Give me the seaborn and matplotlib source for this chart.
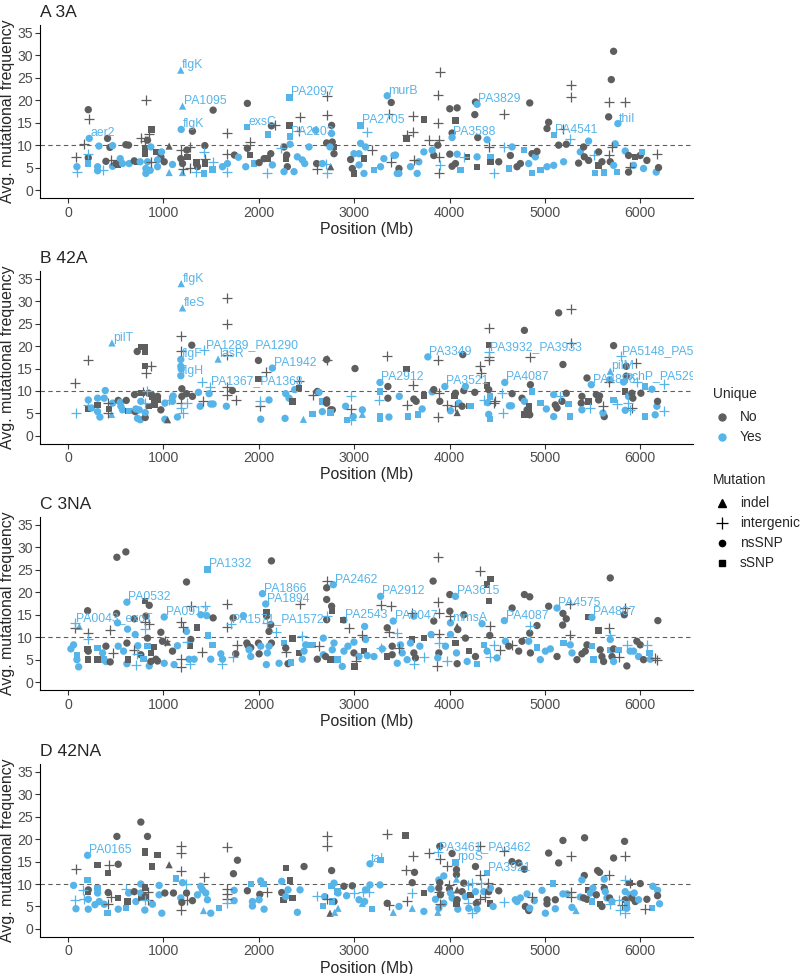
import matplotlib
matplotlib.use("Agg")
import matplotlib.pyplot as plt
from matplotlib.lines import Line2D
import pandas as pd
import seaborn as sns

# ---------------- data: (position Mb, avg. mutational frequency, unique, mutation[, gene]) -------------
# unique: N = No, Y = Yes ; mutation: i = indel, g = intergenic, n = nsSNP, s = sSNP
panel_titles = ["A 3A", "B 42A", "C 3NA", "D 42NA"]
unique_levels = ["No", "Yes"]
mutation_levels = ["indel", "intergenic", "nsSNP", "sSNP"]
x_ticks = [0, 1000, 2000, 3000, 4000, 5000, 6000]
y_ticks = [0, 5, 10, 15, 20, 25, 30, 35]
threshold = 10

pts_3A = [
    (84,7.4,'N','g'),(94,5.2,'Y','n'),(94,4.1,'Y','g'),(213,17.9,'N','n'),(216,15.9,'N','g'),(223,11.5,'Y','n','aer2'),
    (171,10.2,'N','g'),(206,8.1,'Y','g'),(213,7.2,'N','n'),(213,5.9,'Y','s'),(311,5.2,'Y','n'),(311,4.3,'Y','n'),
    (325,9.8,'Y','n'),(363,4.4,'Y','g'),(398,6.4,'N','n'),(415,11.5,'N','n'),(440,9.5,'N','n'),(468,9.9,'Y','n'),
    (450,6.7,'N','g'),(468,5.3,'Y','n'),(503,5.9,'N','n'),(527,5.7,'N','s'),(548,7.0,'Y','n'),(572,5.9,'Y','n'),
    (607,10.1,'N','n'),(635,10.0,'N','n'),(642,5.9,'Y','n'),(695,6.5,'N','n'),(730,6.3,'N','s'),(757,6.3,'Y','n'),
    (764,11.5,'N','g'),(817,20.0,'N','g'),(806,10.9,'N','g'),(834,11.1,'N','n'),(852,12.4,'N','g'),(876,13.5,'N','s'),
    (810,9.3,'N','s'),(810,8.0,'N','s'),(869,9.6,'Y','n'),(921,8.5,'N','s'),(974,7.4,'N','n'),(869,6.3,'N','g'),
    (834,6.3,'Y','n'),(817,4.8,'Y','n'),(817,3.7,'Y','n'),(862,4.4,'Y','n'),(939,6.7,'Y','n'),(939,5.2,'Y','n'),
    (1009,6.3,'N','n'),(981,8.5,'Y','n'),(1061,9.8,'N','i'),(1061,3.9,'Y','i'),(1096,5.7,'Y','n'),
    (1183,26.7,'Y','i','flgK'),(1201,18.7,'Y','i','PA1095'),(1187,13.5,'Y','n','flgK'),(1201,3.9,'Y','i'),
    (1183,8.9,'N','g'),(1183,7.0,'N','n'),(1201,5.9,'N','n'),(1201,4.8,'N','g'),(1246,8.9,'N','n'),(1253,7.4,'N','s'),
    (1305,13.1,'N','n'),(1277,9.6,'N','g'),(1281,5.0,'N','g'),(1347,6.1,'N','s'),(1340,4.1,'Y','g'),(1358,5.2,'N','n'),
    (1428,8.5,'Y','g'),(1435,9.9,'N','n'),(1435,7.0,'N','g'),(1435,5.9,'N','s'),(1428,3.7,'Y','s'),(1522,17.8,'N','n'),
    (1515,4.6,'Y','s'),(1522,6.3,'Y','g'),(1620,5.2,'Y','n'),(1672,12.6,'N','g'),(1672,5.9,'Y','n'),(1672,4.1,'Y','g'),
    (1665,8.1,'N','g'),(1745,7.8,'N','n'),(1787,7.3,'Y','n'),(1881,19.3,'N','n'),(1874,14.1,'Y','s','exsC'),
    (1881,9.3,'N','n'),(1909,10.7,'N','g'),(1909,7.8,'N','s'),(1864,5.2,'Y','n'),(1951,5.9,'Y','s'),(2004,6.1,'N','n'),
    (2056,7.0,'N','n'),(2091,7.0,'N','s'),(2091,3.7,'Y','g'),(2098,12.4,'Y','s'),(2126,8.1,'N','n'),(2133,14.3,'N','n'),
    (2168,14.4,'N','g'),(2143,5.6,'Y','n'),(2231,9.3,'Y','g'),(2265,9.6,'N','n'),(2293,7.8,'N','n'),(2283,7.0,'N','s'),
    (2321,20.6,'Y','s','PA2097'),(2321,14.4,'N','s'),(2328,11.9,'Y','s','PA2103'),(2328,10.2,'Y','n'),(2300,5.2,'N','n'),
    (2265,4.1,'Y','n'),(2370,4.1,'Y','n'),(2422,13.1,'N','g'),(2433,16.3,'N','g'),(2405,7.4,'Y','n'),(2457,6.7,'Y','n'),
    (2482,5.9,'Y','n'),(2527,9.6,'Y','n'),(2597,13.3,'Y','n'),(2607,5.9,'N','n'),(2614,4.8,'N','g'),(2667,5.9,'Y','n'),
    (2712,20.9,'N','g'),(2712,16.7,'N','g'),(2712,10.5,'N','n'),(2701,5.9,'Y','g'),(2719,3.7,'Y','g'),(2754,5.2,'N','i'),
    (2764,14.4,'N','n'),(2764,12.6,'Y','n'),(2771,10.7,'N','n'),(2782,9.6,'N','s'),(2789,8.1,'N','n'),(2747,9.6,'Y','n'),
    (2998,8.1,'Y','n'),(2963,6.8,'N','n'),(2981,4.8,'N','n'),(2998,3.7,'N','s'),(3051,8.1,'Y','n'),
    (3068,14.4,'Y','s','PA2705'),(3068,10.4,'Y','n'),(3103,7.0,'N','s'),(3120,9.6,'Y','n'),(3138,13.0,'Y','g'),
    (3051,5.6,'Y','n'),(3103,3.7,'Y','n'),(3190,8.9,'N','g'),(3208,4.4,'Y','s'),(3277,5.2,'Y','n'),(3312,7.0,'Y','n'),
    (3347,21.0,'Y','n','murB'),(3389,19.5,'N','n'),(3365,17.0,'N','g'),(3382,6.3,'N','g'),(3434,7.8,'Y','n'),
    (3452,3.7,'Y','n'),(3470,4.8,'N','n'),
    (3616,16.5,'N','g'),(3616,12.9,'N','g'),(3731,15.7,'N','s'),(3549,11.4,'N','s'),(3556,12.2,'N','g'),(3783,11.2,'N','g'),
    (3895,26.3,'N','g'),(3881,21.1,'N','g'),(3881,15.0,'N','g'),(3888,11.1,'N','g'),(3877,10.0,'N','n'),(3835,7.7,'N','n'),
    (3888,7.4,'N','g'),(3905,5.5,'Y','g'),(3888,3.8,'N','g'),(3818,8.9,'Y','n'),(3731,8.5,'Y','n'),(3678,6.3,'Y','n'),
    (3626,6.6,'N','g'),(3591,5.2,'Y','n'),(3661,3.7,'Y','n'),(3469,3.7,'Y','n'),(3417,7.7,'Y','n'),
    (4003,18.1,'N','n'),(4080,18.3,'N','n'),(4062,15.5,'N','s'),(4027,12.7,'N','n'),(4027,11.7,'Y','n','PA3588'),
    (4003,8.0,'N','n'),(4080,8.0,'Y','n'),(4062,5.9,'N','n'),(4027,5.3,'N','n'),(4115,4.4,'Y','s'),(4150,7.4,'Y','g'),
    (4185,7.4,'N','s'),(4272,19.6,'N','n'),(4289,19.1,'Y','n','PA3829'),(4265,16.8,'N','n'),(4296,11.7,'N','n'),
    (4289,7.4,'Y','n'),(4289,5.2,'N','s'),(4394,11.2,'Y','n'),(4411,9.6,'N','g'),(4429,7.4,'Y','s'),(4429,6.3,'N','s'),
    (4464,3.7,'Y','g'),(4568,17.0,'N','g'),(4568,9.7,'Y','g'),(4516,6.3,'N','n'),(4638,7.7,'N','n'),(4656,9.6,'Y','n'),
    (4621,4.8,'Y','s'),(4708,5.2,'N','n'),(4743,5.9,'N','n'),(4778,8.9,'Y','s'),(4841,19.4,'N','n'),(4830,5.9,'Y','n'),
    (4865,8.1,'N','n'),(4900,7.4,'Y','n'),(4917,8.6,'N','n'),(4865,3.8,'Y','s'),(4952,4.4,'Y','s'),(5022,5.2,'Y','n'),
    (5039,15.1,'N','n'),(5022,13.7,'N','n'),(5092,12.2,'Y','s','PA4541'),(5092,5.5,'Y','n'),(5144,10.0,'N','n'),
    (5189,13.7,'N','g'),(5224,10.2,'N','n'),(5259,11.4,'Y','g'),(5196,6.3,'Y','n'),(5273,23.3,'N','g'),(5273,20.7,'N','g'),
    (5353,6.0,'N','n'),(5371,8.5,'Y','n'),(5406,9.6,'N','n'),(5413,7.4,'N','n'),(5458,10.9,'Y','n'),(5458,6.6,'N','n'),
    (5511,7.7,'Y','g'),(5528,3.8,'Y','s'),(5563,8.5,'N','n'),(5563,5.5,'N','s'),(5598,6.3,'N','n'),(5622,3.9,'Y','s'),
    (5668,19.6,'N','g'),(5696,24.6,'N','n'),(5720,30.9,'N','n'),(5668,16.3,'N','n'),(5765,14.8,'Y','n','thiI'),
    (5842,19.6,'N','g'),(5737,10.3,'Y','n'),(5703,9.6,'N','g'),(5668,7.7,'N','g'),(5685,6.3,'N','n'),(5720,5.5,'Y','n'),
    (5755,4.0,'Y','s'),(5842,8.7,'Y','n'),(5877,7.7,'N','n'),(5894,5.2,'N','g'),(5929,5.5,'Y','n'),(5947,7.4,'N','s'),
    (5999,7.7,'N','n'),(6017,8.5,'Y','s'),(6034,4.8,'Y','n'),(6069,6.6,'N','n'),(6174,8.0,'N','g'),(6167,4.0,'Y','n'),
    (6191,5.0,'N','n'),(5877,4.0,'N','n'),
]

pts_42A = [
    (73,11.8,'N','g'),(84,5.2,'Y','g'),(213,17.0,'N','g'),(213,8.0,'Y','n'),(213,6.0,'N','s'),(213,6.9,'Y','g'),
    (248,6.2,'Y','n'),(311,5.4,'Y','n'),(311,6.9,'N','s'),(311,8.4,'Y','n'),(335,4.2,'Y','n'),(380,8.4,'Y','n'),
    (391,10.1,'Y','n'),(415,7.3,'N','g'),(433,6.0,'N','s'),(422,5.2,'N','g'),(457,4.8,'Y','i'),(468,7.3,'Y','n'),
    (461,20.7,'Y','i','pilT'),(527,7.9,'N','n'),(555,6.6,'Y','n'),(548,7.5,'Y','n'),(572,5.8,'Y','n'),(611,7.9,'N','n'),
    (632,5.6,'N','s'),(642,5.6,'Y','s'),(698,9.2,'N','n'),(705,5.4,'N','n'),(712,6.0,'Y','n'),(726,18.8,'N','n'),
    (764,19.8,'N','s'),(810,19.8,'N','s'),(810,18.8,'N','s'),(810,15.5,'N','s'),(869,15.6,'N','g'),(817,14.1,'N','g'),
    (771,9.5,'N','s'),(764,7.7,'Y','n'),(747,5.8,'Y','n'),(729,3.9,'Y','n'),(757,3.6,'Y','n'),(810,4.1,'N','n'),
    (810,5.2,'Y','n'),(806,7.4,'Y','g'),(782,9.8,'N','g'),(827,9.9,'Y','g'),(845,9.5,'N','n'),(852,6.6,'N','s'),
    (876,9.2,'N','n'),(887,8.6,'N','s'),(904,8.0,'N','s'),(914,6.9,'N','s'),(939,8.0,'N','s'),(939,8.8,'N','n'),
    (974,5.8,'N','n'),(1016,7.3,'Y','n'),(1016,3.7,'Y','n'),(1044,3.6,'N','i'),(1061,8.0,'Y','g'),(1096,7.7,'Y','n'),
    (1103,8.9,'Y','n'),(1148,4.2,'Y','n'),(1183,7.4,'N','g'),(1201,5.1,'Y','g'),(1190,6.2,'Y','g'),
    (1187,33.9,'Y','i','flgK'),(1201,28.5,'Y','i','fleS'),(1183,22.2,'N','g'),(1183,18.8,'N','g'),
    (1183,17.0,'Y','n','flgF'),(1183,15.5,'Y','n'),(1187,14.9,'Y','n'),(1183,13.4,'Y','n','flgH'),(1194,10.5,'N','n'),
    (1194,8.8,'N','n'),(1243,9.4,'N','n'),(1253,7.4,'Y','g'),(1305,8.8,'N','n'),(1298,20.2,'N','n'),(1368,9.7,'Y','n'),
    (1386,6.6,'Y','n'),(1410,11.9,'Y','g'),(1428,19.2,'Y','g','PA1289_PA1290'),(1417,7.7,'N','g'),(1480,9.4,'Y','n'),
    (1490,11.0,'Y','g','PA1367_PA1368'),(1497,7.1,'Y','n'),(1522,7.1,'Y','n'),(1574,17.1,'Y','i','lasR'),
    (1665,30.6,'N','g'),(1665,25.0,'N','g'),(1672,18.1,'N','g'),(1672,11.0,'N','g'),(1672,9.2,'N','g'),(1661,6.6,'Y','n'),
    (1724,10.1,'N','n'),(1759,8.0,'N','g'),(1997,16.8,'N','n'),(1997,12.7,'N','s'),(2021,3.7,'Y','n'),(2014,7.7,'Y','g'),
    (2014,6.6,'N','g'),(2080,14.2,'N','g'),(2108,8.0,'Y','n'),(2143,15.1,'Y','n','PA1942'),(2276,3.9,'Y','n'),
    (2283,9.4,'Y','n'),(2318,8.4,'Y','n'),(2353,7.7,'N','s'),(2377,10.3,'Y','n'),(2422,10.6,'N','s'),(2422,12.3,'N','g'),
    (2468,3.7,'Y','i'),(2562,4.9,'Y','s'),(2572,9.2,'N','g'),(2614,9.9,'N','n'),(2632,9.7,'Y','n'),(2667,5.4,'Y','n'),
    (2667,7.7,'Y','s'),(2712,17.0,'N','n'),(2719,17.0,'N','g'),(2712,8.0,'N','n'),(2712,7.3,'N','n'),(2754,5.8,'N','n'),
    (2771,5.8,'N','n'),(2754,5.2,'Y','s'),(2911,6.6,'Y','n'),(2928,3.6,'Y','s'),(2963,8.8,'Y','g'),(2963,6.0,'N','g'),
    (2963,3.6,'Y','g'),(2991,4.3,'Y','n'),(3009,15.0,'N','n'),(3086,5.8,'Y','n'),(3086,4.8,'Y','i'),
    (3271,11.9,'Y','n','PA2912'),(3260,8.0,'Y','g'),(3271,9.9,'Y','s'),(3271,4.3,'Y','s'),(3271,3.7,'Y','s'),
    (3347,17.7,'N','g'),(3354,11.0,'N','n'),(3354,8.4,'N','n'),(3365,4.2,'Y','n'),(3473,8.8,'Y','n'),
    (3549,14.9,'N','s'),(3556,6.9,'N','g'),(3619,11.4,'N','g'),(3626,8.2,'N','n'),(3650,7.7,'N','n'),(3567,4.3,'Y','s'),
    (3671,4.8,'Y','s'),(3713,6.0,'Y','n'),(3731,9.0,'N','s'),(3773,17.6,'Y','n','PA3349'),(3877,17.0,'N','g'),
    (3818,9.8,'Y','n'),(3835,10.3,'N','n'),(3888,9.5,'N','g'),(3898,7.7,'N','n'),(3877,4.3,'N','g'),
    (3951,11.0,'Y','n','PA3521'),(3975,6.9,'N','g'),(4010,5.6,'Y','n'),(4062,9.5,'N','n'),(4052,8.9,'N','s'),
    (4062,6.6,'N','g'),(4080,5.2,'N','i'),(4097,7.3,'Y','n'),(4139,18.1,'N','n'),(4150,10.1,'N','n'),(4132,6.6,'N','n'),
    (4167,11.0,'Y','n'),(4202,6.6,'N','s'),(4219,6.7,'Y','s'),(4265,9.7,'N','n'),(4324,15.5,'N','g'),(4331,14.0,'N','g'),
    (4359,8.0,'Y','g'),(4394,11.2,'N','s'),(4411,24.1,'N','g'),(4411,20.3,'N','s'),(4411,18.6,'Y','g','PA3932_PA3933'),
    (4411,17.5,'N','g'),(4411,16.8,'N','g'),(4411,10.3,'N','n'),(4422,8.8,'Y','s'),(4401,7.4,'Y','n'),(4411,4.8,'Y','n'),
    (4422,3.7,'Y','s'),(4464,7.3,'N','g'),(4481,7.7,'N','g'),(4558,5.2,'Y','g'),(4551,9.5,'Y','g'),
    (4579,11.9,'Y','n','PA4087'),(4628,6.7,'Y','n'),(4649,6.7,'Y','n'),(4656,9.4,'N','n'),(4760,8.4,'N','n'),
    (4785,23.5,'N','n'),(4848,17.6,'N','g'),(4785,7.7,'Y','n'),(4813,5.8,'N','n'),(4830,6.6,'N','s'),(4848,11.4,'N','n'),
    (4830,5.4,'N','s'),(4841,4.7,'N','n'),(4785,4.8,'N','s'),(4865,9.9,'Y','s'),(4952,7.3,'Y','s'),(5015,6.0,'Y','n'),
    (5092,9.2,'Y','n'),(5092,4.3,'Y','n'),(5109,6.9,'N','n'),(5127,6.2,'N','n'),(5144,27.4,'N','n'),(5189,15.9,'N','n'),
    (5179,7.7,'N','n'),(5161,8.8,'Y','g'),(5224,9.5,'N','n'),(5249,7.1,'Y','s'),(5273,28.3,'N','g'),(5273,20.7,'N','g'),
    (5266,4.3,'Y','s'),(5388,8.8,'N','n'),(5381,7.3,'N','n'),(5388,5.8,'Y','n'),(5441,12.9,'N','n'),(5458,7.7,'N','s'),
    (5476,6.2,'Y','g'),(5486,11.4,'Y','n','PA4886'),(5539,9.2,'N','n'),(5573,8.9,'N','n'),(5563,8.0,'N','n'),
    (5608,6.6,'N','g'),(5622,4.3,'N','n'),(5608,5.1,'Y','n'),(5668,11.9,'N','g'),(5685,14.4,'Y','i','pilM'),
    (5678,12.5,'Y','n'),(5720,20.1,'N','n'),(5720,8.0,'Y','s'),(5755,7.1,'Y','g'),(5797,17.7,'Y','g','PA5148_PA5149'),
    (5853,15.5,'N','n'),(5853,13.3,'N','n'),(5842,9.9,'N','s'),(5866,7.4,'Y','g'),(5877,8.8,'Y','n'),(5894,5.7,'Y','g'),
    (5912,9.5,'N','n'),(5922,8.4,'N','n'),(5912,6.2,'N','g'),(5842,5.7,'Y','n'),(5957,16.2,'N','g'),(5964,11.9,'Y','g'),
    (5825,12.0,'Y','n','pchP_PA5293'),(6006,9.5,'N','n'),(6052,11.0,'Y','s'),(6052,4.3,'Y','s'),(6122,10.4,'Y','n'),
    (6156,4.7,'Y','n'),(6174,6.6,'Y','n'),(6181,7.7,'N','n'),(6244,11.6,'Y','g'),(6244,5.6,'Y','g'),
]

pts_3NA = [
    (31,7.4,'Y','n'),(59,8.3,'Y','n'),(73,13.2,'Y','g','PA0043_exoT'),(73,12.1,'N','g'),(119,12.4,'Y','i'),
    (94,6.1,'Y','s'),(94,5.0,'Y','n'),(112,3.4,'Y','n'),(206,15.9,'N','n'),(213,10.9,'N','g'),(213,9.5,'Y','g'),
    (206,7.4,'N','s'),(213,6.9,'N','n'),(213,5.0,'N','s'),(311,7.6,'Y','s'),(311,5.0,'N','s'),(363,6.5,'Y','n'),
    (380,5.0,'Y','s'),(398,8.0,'N','n'),(398,4.6,'Y','n'),(443,11.7,'N','g'),(443,4.5,'N','n'),(468,6.5,'N','g'),
    (513,27.8,'N','n'),(510,15.3,'N','n'),(520,13.2,'Y','n'),(527,8.0,'Y','n'),(583,6.9,'Y','n'),(607,29.0,'N','n'),
    (618,17.8,'Y','n','PA0532'),(625,11.8,'Y','n'),(618,8.7,'N','n'),(618,4.1,'Y','n'),(632,5.0,'N','s'),
    (688,7.2,'N','g'),(695,14.1,'N','n'),(705,10.6,'Y','n'),(722,6.3,'Y','g'),(712,3.9,'Y','g'),(733,8.1,'Y','n'),
    (764,6.1,'N','n'),(792,5.1,'Y','s'),(806,18.0,'N','s'),(817,14.7,'N','n'),(806,13.3,'N','g'),(852,17.1,'N','n'),
    (852,13.0,'N','g'),(810,11.8,'Y','g'),(834,9.8,'N','n'),(834,8.1,'Y','s'),(852,3.6,'Y','n'),(869,4.6,'N','n'),
    (869,6.5,'N','s'),(904,7.8,'N','s'),(921,5.1,'N','n'),(939,4.7,'N','n'),(974,11.1,'N','n'),(991,9.1,'N','n'),
    (1009,14.5,'Y','n','PA0912'),(1019,9.1,'N','g'),(1044,8.9,'N','i'),(1009,4.2,'Y','n'),(1096,6.9,'N','n'),
    (1113,3.9,'Y','n'),(1148,8.1,'Y','n'),(1183,13.3,'N','g'),(1201,12.2,'N','g'),(1243,22.3,'N','n'),
    (1243,11.3,'Y','n'),(1253,8.9,'Y','g'),(1281,8.0,'N','s'),(1288,9.5,'N','n'),(1183,5.1,'N','g'),(1183,3.4,'N','g'),
    (1270,5.1,'Y','n'),(1281,4.1,'Y','g'),(1288,16.9,'N','g'),(1323,5.1,'Y','n'),(1351,12.2,'N','s'),(1393,15.0,'Y','n'),
    (1410,6.6,'N','g'),(1435,16.9,'Y','g'),(1455,14.8,'Y','n'),(1462,25.1,'Y','s','PA1332'),(1469,10.4,'Y','s'),
    (1497,5.1,'Y','n'),(1522,14.3,'N','n'),(1515,8.3,'Y','s'),(1602,6.3,'Y','n'),(1620,5.1,'Y','n'),(1620,4.1,'Y','g'),
    (1672,17.4,'N','g'),(1672,12.2,'N','g'),(1707,12.9,'Y','g','PA1571_PA1572'),(1731,14.3,'N','n'),
    (1731,5.7,'Y','g'),(1759,6.3,'N','n'),(1770,8.3,'N','g'),(1839,14.8,'Y','n'),(1875,8.7,'N','n'),(1888,8.1,'N','n'),
    (1916,7.7,'N','n'),(1899,7.2,'Y','n'),(1916,5.7,'Y','n'),(1997,8.7,'N','n'),(2021,8.0,'Y','n'),(2004,6.3,'N','n'),
    (2039,19.7,'Y','n','PA1866'),(2073,17.4,'Y','n','PA1894'),(2080,15.6,'N','s'),(2083,14.7,'N','n'),
    (2091,13.2,'Y','g'),(2108,11.3,'N','n'),(2126,12.8,'N','n'),(2133,27.0,'N','n'),(2133,8.7,'N','n'),(2091,6.5,'Y','n'),
    (2080,3.9,'Y','n'),(2108,8.0,'Y','n'),(2178,11.1,'Y','g'),(2213,4.2,'Y','n'),(2265,8.7,'Y','s'),(2283,7.6,'N','n'),
    (2283,6.6,'N','g'),(2307,4.1,'N','n'),(2335,4.4,'Y','s'),(2353,9.7,'N','s'),(2422,6.5,'N','s'),(2433,17.4,'N','g'),
    (2457,5.1,'Y','n'),(2457,10.2,'Y','g'),(2475,6.9,'Y','n'),(2492,8.3,'Y','n'),(2510,8.3,'Y','s'),(2572,8.3,'Y','s'),
    (2614,5.1,'N','n'),(2632,8.0,'N','g'),(2677,9.8,'Y','n'),(2712,22.5,'N','g'),(2712,21.0,'N','n'),(2712,18.4,'N','n'),
    (2712,13.9,'N','n'),(2719,14.7,'Y','g'),(2764,16.9,'N','n'),(2771,15.8,'N','s'),(2782,21.7,'Y','n','PA2462'),
    (2677,6.1,'Y','n'),(2701,5.7,'N','n'),(2754,5.0,'N','s'),(2771,7.2,'Y','n'),(2789,8.7,'Y','n'),(2824,5.0,'Y','s'),
    (2876,3.5,'Y','n'),(2893,6.9,'Y','n'),(2893,13.8,'Y','n','PA2543'),(2886,13.8,'N','s'),(2945,12.1,'N','g'),
    (2935,8.0,'Y','n'),(2998,8.9,'Y','n'),(2998,6.5,'N','n'),(3016,4.6,'N','g'),(3005,3.5,'N','s'),(3051,5.7,'Y','n'),
    (3086,10.6,'N','g'),(3103,6.9,'N','s'),(3110,12.4,'Y','n'),(3120,9.5,'Y','n'),(3138,5.9,'Y','n'),(3208,5.7,'Y','n'),
    (3277,19.1,'Y','n','PA2912'),(3277,17.1,'N','g'),(3347,12.1,'N','n'),(3365,11.1,'N','g'),(3277,7.6,'Y','g'),
    (3295,7.4,'Y','n'),(3410,13.6,'Y','n','PA3047'),(3399,8.0,'N','n'),(3347,5.7,'N','s'),(3399,6.1,'N','n'),
    (3452,4.2,'Y','n'),(3470,7.6,'N','g'),(3452,10.9,'Y','g'),
    (3382,16.9,'N','g'),(3486,8.3,'Y','n'),(3504,6.5,'Y','n'),(3608,15.4,'N','g'),(3626,14.7,'Y','n'),(3608,9.5,'N','s'),
    (3591,8.7,'Y','n'),(3626,6.5,'N','n'),(3643,5.4,'N','n'),(3626,4.1,'Y','g'),(3556,5.0,'Y','n'),(3689,8.0,'Y','n'),
    (3731,9.8,'N','s'),(3731,5.7,'Y','g'),(3807,10.6,'Y','n'),(3828,22.5,'N','n'),(3835,13.6,'N','n'),(3877,27.8,'N','g'),
    (3877,17.8,'N','g'),(3888,15.3,'N','g'),(3888,10.8,'N','g'),(3888,8.7,'Y','g'),(3888,6.5,'N','n'),(3877,5.4,'Y','n'),
    (3870,3.5,'N','g'),(3958,8.0,'Y','n'),(3975,4.6,'Y','g'),(4003,19.5,'N','n'),(4003,15.8,'N','n'),(4010,14.8,'N','g'),
    (4010,13.2,'Y','n','mmsA'),(4010,10.6,'Y','n'),(4062,19.1,'Y','n','PA3615'),(4080,12.4,'N','i'),(4087,11.7,'N','n'),
    (4062,8.7,'N','s'),(4073,6.5,'Y','n'),(4080,4.1,'N','n'),(4150,15.0,'N','n'),(4167,9.8,'N','n'),(4202,6.9,'N','s'),
    (4185,4.6,'Y','n'),(4272,5.7,'N','n'),(4289,4.1,'Y','s'),(4324,24.7,'N','g'),(4341,13.0,'Y','n'),(4394,21.7,'N','s'),
    (4429,22.9,'N','s'),(4411,18.0,'N','s'),(4422,12.4,'N','g'),(4422,10.4,'N','n'),(4359,8.3,'Y','s'),(4394,6.9,'Y','n'),
    (4429,5.7,'Y','g'),(4464,8.3,'Y','g'),(4498,5.4,'Y','n'),(4533,7.2,'N','g'),(4586,9.1,'Y','n'),
    (4575,13.7,'Y','n','PA4087'),(4621,8.0,'N','n'),(4656,8.3,'N','g'),(4656,16.5,'N','n'),(4725,6.9,'N','n'),
    (4760,9.1,'N','n'),(4785,19.5,'N','n'),(4841,19.0,'N','n'),(4848,12.4,'Y','g'),(4841,10.9,'N','n'),(4830,9.1,'Y','n'),
    (4848,6.5,'N','n'),(4917,12.6,'N','n'),(4917,7.7,'Y','s'),(4952,5.0,'Y','n'),(5005,6.9,'Y','n'),(5039,16.9,'N','n'),
    (5057,7.4,'Y','n'),(5127,16.5,'Y','n','PA4575'),(5127,5.7,'N','n'),(5189,15.3,'N','n'),(5186,12.7,'N','n'),
    (5196,8.7,'Y','s'),(5224,14.1,'N','n'),(5266,17.3,'N','g'),(5266,10.6,'N','g'),(5266,8.3,'Y','n'),(5284,6.5,'Y','n'),
    (5336,5.0,'N','n'),(5388,6.3,'N','n'),(5423,6.9,'N','n'),(5441,8.3,'N','n'),(5458,14.5,'N','s'),
    (5493,14.4,'Y','n','PA4807'),(5493,8.0,'Y','s'),(5511,5.0,'Y','s'),(5563,11.5,'N','s'),(5580,7.2,'N','n'),
    (5598,5.7,'N','n'),(5615,4.6,'N','n'),(5668,12.1,'N','g'),(5685,23.2,'N','n'),(5678,10.6,'Y','g'),(5685,9.5,'Y','n'),
    (5685,7.2,'Y','s'),(5720,7.4,'N','n'),(5703,5.7,'N','n'),(5720,4.6,'Y','n'),(5772,5.7,'N','g'),(5772,7.2,'Y','s'),
    (5842,16.5,'N','g'),(5832,15.0,'N','n'),(5859,8.3,'Y','g'),(5859,3.6,'N','n'),(5894,6.9,'Y','n'),(5929,6.9,'Y','n'),
    (5964,9.1,'N','n'),(5999,8.3,'N','n'),(5982,5.7,'Y','n'),(6034,5.0,'N','n'),(6069,8.3,'Y','g'),(6097,6.5,'Y','s'),
    (6104,5.1,'Y','n'),(6156,5.4,'N','g'),(6184,13.7,'N','n'),(6174,5.0,'N','g'),
]

pts_42NA = [
    (59,9.7,'Y','n'),(84,13.4,'N','g'),(73,6.5,'Y','g'),(84,4.5,'Y','n'),(154,8.7,'Y','g'),(171,6.6,'Y','g'),
    (206,16.4,'Y','n','PA0165'),(206,10.9,'Y','s'),(213,8.7,'N','n'),(213,8.2,'N','s'),(213,6.6,'Y','n'),
    (213,4.4,'Y','n'),(311,14.3,'N','s'),(311,9.1,'Y','s'),(311,8.0,'Y','n'),(283,5.4,'Y','n'),(328,6.1,'Y','n'),
    (380,5.5,'Y','n'),(415,3.5,'Y','s'),(422,12.4,'N','s'),(433,14.3,'N','g'),(422,8.1,'N','n'),(450,7.2,'N','g'),
    (422,5.6,'N','g'),(513,20.6,'N','n'),(527,14.4,'N','n'),(527,6.9,'N','s'),(527,4.4,'Y','n'),(607,8.9,'Y','g'),
    (607,4.6,'Y','s'),(625,6.1,'N','s'),(636,8.0,'Y','n'),(695,8.3,'N','n'),(712,6.1,'Y','n'),(764,23.8,'N','n'),
    (764,10.0,'Y','n'),(764,6.9,'N','s'),(764,8.0,'Y','n'),(810,17.4,'N','s'),(810,16.9,'N','s'),(810,9.2,'N','s'),
    (810,7.2,'N','n'),(806,4.2,'Y','n'),(810,6.5,'Y','g'),(834,20.6,'N','n'),(834,8.3,'N','g'),(834,6.5,'N','g'),
    (886,5.5,'Y','n'),(879,13.9,'N','s'),(939,16.5,'N','s'),(956,9.7,'Y','n'),(956,7.6,'Y','n'),(984,3.5,'Y','n'),
    (1016,8.0,'N','n'),(1061,14.3,'N','i'),(1106,8.0,'N','n'),(1131,11.2,'Y','s'),(1183,18.4,'N','g'),
    (1183,16.8,'N','g'),(1183,12.8,'N','g'),(1201,10.3,'Y','n'),(1183,6.9,'Y','n'),(1194,5.9,'N','n'),(1183,4.2,'N','g'),
    (1243,8.0,'N','n'),(1253,6.5,'N','g'),(1236,10.0,'Y','g'),(1305,6.3,'N','n'),(1358,7.6,'Y','n'),(1393,9.5,'Y','n'),
    (1421,11.5,'N','g'),(1410,8.7,'Y','n'),(1421,4.1,'Y','i'),(1445,8.0,'Y','n'),(1462,6.5,'Y','n'),(1497,3.5,'Y','n'),
    (1585,4.6,'Y','s'),(1665,18.2,'N','g'),(1665,8.9,'N','g'),(1665,7.8,'N','g'),(1672,6.6,'N','g'),(1665,5.7,'Y','g'),
    (1735,12.3,'N','n'),(1742,8.6,'Y','n'),(1742,6.3,'Y','n'),(1777,15.3,'N','n'),(1881,8.5,'N','n'),
    (1916,10.0,'Y','s'),(1934,6.1,'Y','n'),(1934,5.1,'Y','n'),(2011,7.7,'N','n'),(2021,10.7,'Y','n'),(2004,6.5,'Y','n'),
    (2049,10.0,'Y','s'),(2056,4.4,'Y','n'),(2091,8.3,'N','g'),(2241,10.6,'Y','n'),(2241,8.1,'N','n'),(2258,6.5,'N','s'),
    (2283,13.6,'N','s'),(2283,7.2,'Y','n'),(2307,8.7,'Y','n'),(2328,10.8,'N','s'),(2353,6.9,'N','s'),(2405,3.7,'Y','n'),
    (2433,8.7,'Y','n'),(2475,13.9,'N','n'),(2607,7.4,'Y','g'),(2677,5.1,'Y','s'),(2691,7.2,'Y','n'),(2712,20.6,'N','g'),
    (2712,18.4,'N','g'),(2719,6.6,'N','g'),(2747,3.5,'N','i'),(2764,13.0,'N','n'),(2764,9.6,'Y','s'),(2789,10.2,'Y','n'),
    (2789,6.1,'N','n'),(2771,6.1,'Y','s'),(2796,3.7,'Y','i'),(2824,8.3,'Y','s'),(2831,8.0,'Y','n'),(2831,4.6,'Y','i'),
    (2893,9.5,'N','n'),(2921,7.4,'Y','n'),(2981,9.6,'N','n'),(2998,8.1,'Y','g'),(3051,6.5,'Y','n'),(3086,5.7,'Y','i'),
    (3096,8.3,'Y','g'),(3110,6.1,'Y','n'),(3120,8.7,'Y','n'),(3155,8.3,'Y','g'),(3166,9.8,'Y','n'),
    (3166,14.5,'Y','n','tal'),(3190,4.4,'Y','s'),(3271,9.8,'Y','n'),(3277,15.3,'Y','s'),(3340,21.2,'N','g'),
    (3347,5.7,'N','n'),(3365,5.4,'N','g'),(3410,3.7,'Y','i'),(3470,5.0,'Y','n'),
    (3539,20.8,'N','s'),(3549,13.2,'N','g'),(3619,16.3,'N','g'),(3633,12.6,'N','n'),(3609,10.3,'N','n'),
    (3609,8.1,'Y','g'),(3556,6.3,'N','g'),(3609,4.6,'Y','i'),(3731,8.0,'N','s'),(3731,3.9,'Y','n'),(3783,16.8,'N','g'),
    (3807,8.9,'Y','n'),(3853,6.6,'Y','n'),(3877,17.1,'Y','g','PA3461_PA3462'),(3898,18.4,'N','n'),(3898,15.6,'N','g'),
    (3888,10.9,'Y','n'),(3898,10.3,'N','n'),(3888,9.1,'N','n'),(3888,8.3,'N','g'),(3905,7.6,'N','n'),(3898,5.6,'N','g'),
    (3888,4.6,'Y','n'),(3877,3.7,'Y','i'),(3940,11.8,'Y','n'),(3940,5.7,'Y','n'),(3975,14.1,'N','g'),(3992,9.8,'N','g'),
    (3999,8.9,'N','n'),(4010,8.0,'Y','n'),(4027,16.8,'N','n'),(4027,6.9,'Y','n'),(4062,14.8,'Y','s','rpoS'),
    (4073,13.2,'N','n'),(4073,12.1,'N','n'),(4073,11.1,'Y','i'),(4080,8.7,'N','i'),(4080,6.5,'N','n'),(4087,4.4,'Y','n'),
    (4073,5.6,'N','s'),(4132,8.3,'N','n'),(4150,10.2,'N','n'),(4167,7.2,'Y','n'),(4191,9.8,'Y','g'),(4191,5.7,'Y','g'),
    (4202,4.6,'Y','n'),(4219,7.6,'N','s'),(4237,10.3,'Y','g'),(4237,3.5,'Y','g'),(4272,13.9,'N','n'),(4272,8.3,'Y','n'),
    (4282,5.7,'N','n'),(4289,4.4,'Y','n'),(4324,18.4,'N','g'),(4324,12.1,'N','g'),(4334,10.2,'Y','g'),(4324,6.6,'N','g'),
    (4359,8.3,'Y','n'),(4376,7.2,'N','g'),(4394,12.4,'Y','s','PA3921'),(4401,10.3,'N','g'),(4411,8.3,'N','n'),
    (4422,5.7,'N','s'),(4429,9.1,'Y','n'),(4457,5.0,'Y','n'),(4516,8.5,'N','n'),(4568,17.3,'N','g'),(4568,5.9,'Y','g'),
    (4655,15.0,'N','n'),(4690,6.5,'Y','n'),(4708,6.1,'Y','n'),(4725,14.7,'N','n'),(4743,6.9,'Y','n'),(4785,13.3,'N','n'),
    (4795,5.0,'N','n'),(4813,7.8,'Y','n'),(4830,4.1,'N','n'),(4841,4.6,'Y','n'),(4865,7.2,'N','g'),(4889,6.3,'Y','n'),
    (4970,8.6,'Y','n'),(5005,3.5,'Y','n'),(5022,6.5,'N','n'),(5022,5.6,'N','n'),(5039,16.9,'N','n'),(5109,6.5,'N','n'),
    (5109,4.5,'Y','n'),(5085,10.1,'Y','s'),(5144,14.7,'N','n'),(5189,19.7,'N','n'),(5189,7.8,'Y','n'),(5231,7.8,'Y','n'),
    (5273,16.3,'N','g'),(5273,8.3,'N','g'),(5273,7.2,'N','g'),(5284,4.8,'Y','n'),(5326,4.1,'Y','i'),(5371,7.1,'Y','n'),
    (5406,6.9,'N','n'),(5416,20.3,'N','n'),(5413,11.9,'N','n'),(5388,10.9,'Y','n'),(5441,6.6,'N','n'),(5458,8.7,'N','s'),
    (5476,8.0,'Y','n'),(5493,6.1,'Y','s'),(5504,9.1,'Y','n'),(5539,7.6,'N','n'),(5552,13.0,'N','n'),(5573,12.6,'N','n'),
    (5580,5.6,'N','s'),(5598,5.0,'N','n'),(5622,11.1,'Y','n'),(5622,9.1,'N','n'),(5633,8.3,'Y','n'),(5650,6.9,'Y','n'),
    (5668,12.1,'N','g'),(5678,6.9,'N','n'),(5685,5.6,'Y','g'),(5720,15.8,'N','n'),(5703,6.1,'Y','n'),(5772,6.5,'Y','g'),
    (5790,4.2,'Y','g'),(5807,5.4,'N','g'),(5835,19.5,'N','n'),(5842,16.3,'N','g'),(5842,10.9,'Y','g'),(5842,8.3,'Y','n'),
    (5842,6.5,'N','n'),(5859,5.6,'Y','s'),(5859,4.6,'Y','n'),(5842,3.6,'Y','g'),(5887,10.2,'N','s'),(5894,10.2,'N','g'),
    (5894,7.6,'Y','n'),(5912,6.9,'N','n'),(5936,8.0,'Y','n'),(5947,6.1,'N','n'),(5982,6.5,'Y','n'),(5999,10.1,'N','n'),
    (6052,4.4,'N','g'),(6069,6.6,'N','n'),(6122,4.6,'Y','s'),(6132,9.5,'Y','n'),(6181,8.6,'Y','n'),(6181,7.4,'N','n'),
    (6202,5.6,'Y','n'),
]

panel_points = [pts_3A, pts_42A, pts_3NA, pts_42NA]

# ---------------- styling ----------------
UNIQ_CODE = {"N": "No", "Y": "Yes"}
MUT_CODE = {"i": "indel", "g": "intergenic", "n": "nsSNP", "s": "sSNP"}
palette = {"No": "#5E5E5E", "Yes": "#56B4E9"}
filled_markers = {"indel": "^", "nsSNP": "o", "sSNP": "s"}
filled_sizes = {"indel": 27, "nsSNP": 28, "sSNP": 21}

sns.set_style("ticks")
plt.rcParams["font.family"] = ["Liberation Sans", "DejaVu Sans"]


def to_frame(points):
    rows = []
    for t in points:
        rows.append({"Position": t[0], "Freq": t[1], "Unique": UNIQ_CODE[t[2]],
                     "Mutation": MUT_CODE[t[3]], "Gene": t[4] if len(t) > 4 else ""})
    return pd.DataFrame(rows)


fig = plt.figure(figsize=(8.0, 9.74), dpi=100)
bottoms = [0.7968, 0.5444, 0.2916, 0.0382]
ax_left, ax_w, ax_h = 0.0506, 0.8156, 0.1775

for title, pts, bot in zip(panel_titles, panel_points, bottoms):
    ax = fig.add_axes([ax_left, bot, ax_w, ax_h])
    df = to_frame(pts)
    ax.axhline(threshold, color="#5f5f5f", lw=0.8, ls=(0, (4, 3)), zorder=1)
    filled = df[df.Mutation != "intergenic"]
    sns.scatterplot(data=filled, x="Position", y="Freq", hue="Unique", style="Mutation",
                    size="Mutation", sizes=filled_sizes, size_order=["indel", "nsSNP", "sSNP"],
                    hue_order=unique_levels, style_order=["indel", "nsSNP", "sSNP"],
                    palette=palette, markers=filled_markers, linewidth=0,
                    legend=False, ax=ax, zorder=2)
    inter = df[df.Mutation == "intergenic"]
    for u in unique_levels:
        sub = inter[inter.Unique == u]
        if len(sub):
            sns.scatterplot(data=sub, x="Position", y="Freq", color=palette[u], marker="+",
                            s=55, linewidth=0.9, legend=False, ax=ax, zorder=2)
    for _, r in df[df.Gene != ""].iterrows():
        ax.annotate(r.Gene, (r.Position, r.Freq), xytext=(1, 1.5), textcoords="offset points",
                    ha="left", va="baseline", color=palette["Yes"], fontsize=8.8, clip_on=True,
                    zorder=3)
    ax.set_xlim(-288, 6552)
    ax.set_ylim(-1.75, 36.75)
    ax.set_xticks(x_ticks)
    ax.set_yticks(y_ticks)
    ax.set_xlabel("Position (Mb)", fontsize=11.4, labelpad=1.5)
    ax.set_ylabel("Avg. mutational frequency", fontsize=11.4)
    ax.yaxis.set_label_coords(-0.039, 0.5)
    ax.set_title(title, loc="left", fontsize=12.6, pad=6)
    for sp in ["top", "right"]:
        ax.spines[sp].set_visible(False)
    for sp in ["left", "bottom"]:
        ax.spines[sp].set_color("black")
        ax.spines[sp].set_linewidth(0.8)
    ax.tick_params(axis="both", labelsize=10.2, labelcolor="#4D4D4D", length=3.5, width=0.8,
                   color="#333333", pad=2)

# ---------------- legends (figure coordinates) ----------------
W, H = 800.0, 974.0


def fx(px):
    return px / W


def fy(py):
    return 1 - py / H


fig.text(fx(713), fy(394), "Unique", fontsize=9.9, va="center", ha="left")
for lab, py in zip(unique_levels, [417, 437]):
    fig.add_artist(Line2D([fx(722)], [fy(py)], transform=fig.transFigure, marker="o", ms=5,
                          color=palette[lab], ls="none"))
    fig.text(fx(740), fy(py), lab, fontsize=9.9, va="center", ha="left")

fig.text(fx(713), fy(480), "Mutation", fontsize=9.9, va="center", ha="left")
leg_markers = {"indel": ("^", 5.5, 1), "intergenic": ("+", 8, 0.9), "nsSNP": ("o", 4.5, 1), "sSNP": ("s", 4.5, 1)}
for lab, py in zip(mutation_levels, [503, 523, 543, 563]):
    mk, ms, mew = leg_markers[lab]
    fig.add_artist(Line2D([fx(722)], [fy(py)], transform=fig.transFigure, marker=mk, ms=ms,
                          mew=mew, color="black", ls="none"))
    fig.text(fx(740), fy(py), lab, fontsize=9.9, va="center", ha="left")

fig.savefig("out.png", dpi=100)
